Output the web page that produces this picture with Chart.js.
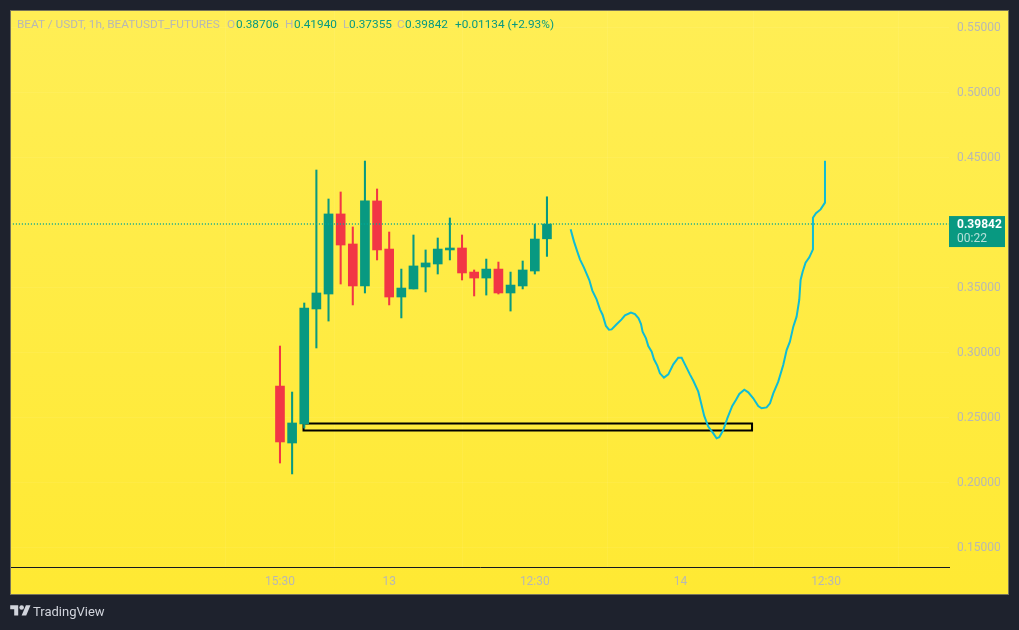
<!DOCTYPE html>
<html>
<head>
<meta charset="utf-8">
<title>BEAT / USDT</title>
<script src="https://cdn.jsdelivr.net/npm/chart.js@4"></script>
<style>
    html, body { margin: 0; padding: 0; background: #1e222d; overflow: hidden; }
    #pane { position: absolute; left: 10px; top: 10px; width: 997px; height: 583px; border: 1px solid #77745a;
            background: linear-gradient(#ffee55, #ffe933); }
    #myChart { position: absolute; left: 0; top: 0; }
    .hd { position: absolute; top: 17px; font: 11.8px Roboto, sans-serif; line-height: 14px; white-space: nowrap; color: #089981; }
    .gr { color: #b8b8b4; }
    #brand { position: absolute; left: 33px; top: 604px; font: 13px Roboto, sans-serif; color: #d1d4dc; }
    #logo { position: absolute; left: 10px; top: 603px; }
</style>
</head>
<body>
<div id="pane"></div>
<canvas id="myChart" width="1019" height="630"></canvas>
<span class="hd gr" style="left:17px">BEAT / USDT, 1h, BEATUSDT_FUTURES</span>
<span class="hd gr" style="left:227px">O</span><span class="hd" style="left:236px">0.38706</span>
<span class="hd gr" style="left:285px">H</span><span class="hd" style="left:294px">0.41940</span>
<span class="hd gr" style="left:343px">L</span><span class="hd" style="left:349px">0.37355</span>
<span class="hd gr" style="left:397px">C</span><span class="hd" style="left:405px">0.39842</span>
<span class="hd" style="left:455px">+0.01134 (+2.93%)</span>
<svg id="logo" width="21" height="16" viewBox="0 0 36 28"><path fill="#d1d4dc" d="M14 22H7V11H0V4h14v18zM28 22h-8l7.5-18h8L28 22z"/><circle fill="#d1d4dc" cx="20" cy="8" r="4"/></svg>
<span id="brand">TradingView</span>
<script>
// candles, one per hour, first one is index 0
candle_open  = [0.2738, 0.2300, 0.2446, 0.3331, 0.3446, 0.4062, 0.3831, 0.3508, 0.4162, 0.3792, 0.3423, 0.3485, 0.3654, 0.3677, 0.3785, 0.3800, 0.3615, 0.3569, 0.3638, 0.3454, 0.3508, 0.3623, 0.38706]
candle_close = [0.2308, 0.2454, 0.3338, 0.3454, 0.4062, 0.3823, 0.3508, 0.4162, 0.3785, 0.3423, 0.3492, 0.3662, 0.3685, 0.3792, 0.3800, 0.3608, 0.3569, 0.3638, 0.3454, 0.3515, 0.3631, 0.3869, 0.39842]
candle_high  = [0.3046, 0.2692, 0.3377, 0.4400, 0.4177, 0.4231, 0.3962, 0.4469, 0.4254, 0.3923, 0.3638, 0.3900, 0.3785, 0.3877, 0.4031, 0.3900, 0.3631, 0.3715, 0.3692, 0.3615, 0.3700, 0.3984, 0.41940]
candle_low   = [0.2146, 0.2062, 0.2415, 0.3031, 0.3238, 0.3523, 0.3362, 0.3454, 0.3708, 0.3362, 0.3262, 0.3485, 0.3462, 0.3600, 0.3708, 0.3554, 0.3431, 0.3438, 0.3446, 0.3315, 0.3485, 0.3600, 0.37355]

// hand drawn projection, x is in candle units
path_x = [23.95, 24.23, 24.50, 24.72, 25.05, 25.49, 25.74, 26.09, 26.37, 26.59, 26.86, 27.11, 27.33, 27.74, 28.15, 28.43, 28.92, 29.25, 29.55, 29.75, 29.88, 30.16, 30.35, 30.63, 30.82, 31.09, 31.31, 31.64, 32.00, 32.41, 32.82, 33.10, 33.37, 33.78, 34.06, 34.47, 34.74, 34.96, 35.29, 35.71, 35.98, 36.20, 36.53, 36.86, 37.27, 37.57, 37.85, 38.26, 38.59, 39.00, 39.41, 39.69, 40.10, 40.38, 40.65, 41.06, 41.47, 41.75, 42.02, 42.30, 42.57, 42.79, 42.90, 43.07, 43.31, 43.62, 43.92, 43.92, 44.17, 44.55, 44.91, 44.91]
path_y = [0.3944, 0.3849, 0.3772, 0.3713, 0.3649, 0.3554, 0.3472, 0.3405, 0.3328, 0.3285, 0.3200, 0.3172, 0.3174, 0.3213, 0.3251, 0.3282, 0.3303, 0.3292, 0.3259, 0.3215, 0.3156, 0.3105, 0.3046, 0.3003, 0.2944, 0.2895, 0.2836, 0.2803, 0.2828, 0.2905, 0.2956, 0.2956, 0.2905, 0.2828, 0.2779, 0.2695, 0.2592, 0.2508, 0.2426, 0.2374, 0.2336, 0.2344, 0.2400, 0.2490, 0.2585, 0.2631, 0.2677, 0.2710, 0.2690, 0.2644, 0.2585, 0.2567, 0.2574, 0.2605, 0.2682, 0.2772, 0.2900, 0.3015, 0.3079, 0.3195, 0.3272, 0.3400, 0.3554, 0.3618, 0.3687, 0.3728, 0.3790, 0.4033, 0.4067, 0.4097, 0.4149, 0.4472]

// black box drawn on the chart
box_x = [1.94, 38.9, 38.9, 1.94, 1.94]
box_y = [0.2450, 0.2450, 0.2396, 0.2396, 0.2450]

last_price = 0.39842
countdown = "00:22"

y_ticks = [0.15, 0.20, 0.25, 0.30, 0.35, 0.40, 0.45, 0.50, 0.55]
y_tick_labels = ["0.15000", "0.20000", "0.25000", "0.30000", "0.35000", "", "0.45000", "0.50000", "0.55000"]
x_ticks = [0, 9, 21, 33, 45]
x_tick_labels = ["15:30", "13", "12:30", "14", "12:30"]

up_color = "#089981"
down_color = "#f23645"
label_color = "#b8b8b4"

function toPoints(xs, ys) {
    return xs.map((x, i) => ({x: x, y: ys[i]}));
}

let wicks = candle_open.map((o, i) => ({x: i, y: [candle_low[i], candle_high[i]]}));
let bodies = candle_open.map((o, i) => ({x: i, y: [o, candle_close[i]]}));
let colors = candle_open.map((o, i) => candle_close[i] >= o ? up_color : down_color);

// the price tag on the axis, follows the y scale
let priceTag = {
    id: "priceTag",
    afterDraw(chart) {
        let ctx = chart.ctx;
        let y = chart.scales.y.getPixelForValue(last_price);
        ctx.save();
        ctx.fillStyle = up_color;
        ctx.fillRect(chart.chartArea.right, y - 8, 56, 31);
        ctx.textBaseline = "middle";
        ctx.textAlign = "left";
        ctx.fillStyle = "#ffffff";
        ctx.font = "bold 12px Roboto, sans-serif";
        ctx.fillText(last_price.toFixed(5), chart.chartArea.right + 8, y + 1);
        ctx.fillStyle = "rgba(255,255,255,0.7)";
        ctx.font = "12px Roboto, sans-serif";
        ctx.fillText(countdown, chart.chartArea.right + 8, y + 15);
        ctx.restore();
    }
};

// y labels must not push the plot area in
function noPadding(scale) {
    scale.paddingTop = 0;
    scale.paddingBottom = 0;
    scale.paddingLeft = 0;
    scale.paddingRight = 0;
}

let myChart = document.getElementById("myChart").getContext("2d");
let candleChart = new Chart(myChart, {
    data: {
        datasets: [
            {
                type: "line",
                data: toPoints(box_x, box_y),
                borderColor: "#000000",
                borderWidth: 2,
                pointRadius: 0,
                tension: 0,
                order: 5
            },
            {
                type: "bar",
                data: wicks,
                backgroundColor: colors,
                barThickness: 1.4,
                grouped: false,
                order: 4
            },
            {
                type: "bar",
                data: bodies,
                backgroundColor: colors,
                barThickness: 9,
                grouped: false,
                order: 3
            },
            {
                type: "line",
                data: toPoints([-23, 56], [last_price, last_price]),
                borderColor: "#00a896",
                borderWidth: 1.4,
                borderDash: [1, 2],
                pointRadius: 0,
                order: 2
            },
            {
                type: "line",
                data: toPoints(path_x, path_y),
                borderColor: "#0fbcd6",
                borderWidth: 2,
                pointRadius: 0,
                tension: 0,
                order: 1
            }
        ]
    },
    options: {
        responsive: false,
        animation: false,
        layout: {padding: {left: 11, top: 11, right: 11, bottom: 36}},
        plugins: {legend: {display: false}, tooltip: {enabled: false}},
        scales: {
            x: {
                type: "linear",
                min: -22.165,
                max: 55.13,
                offset: false,
                afterFit(scale) { scale.height = 27; noPadding(scale); },
                afterBuildTicks(scale) { scale.ticks = x_ticks.map(v => ({value: v})); },
                border: {display: true, color: "#131722", width: 1},
                grid: {color: "rgba(255,255,255,0.06)", drawTicks: false},
                ticks: {
                    color: label_color,
                    font: {family: "Roboto, sans-serif", size: 12},
                    padding: 8,
                    maxRotation: 0,
                    autoSkip: false,
                    callback: (v) => x_tick_labels[x_ticks.indexOf(v)]
                }
            },
            y: {
                position: "right",
                min: 0.13462,
                max: 0.56231,
                afterFit(scale) { scale.width = 59; noPadding(scale); },
                afterBuildTicks(scale) { scale.ticks = y_ticks.map(v => ({value: v})); },
                border: {display: false},
                grid: {color: "rgba(255,255,255,0.06)", drawTicks: false},
                ticks: {
                    color: label_color,
                    font: {family: "Roboto, sans-serif", size: 12},
                    padding: 8,
                    labelOffset: 1,
                    autoSkip: false,
                    callback: (v) => y_tick_labels[y_ticks.indexOf(v)]
                }
            }
        }
    },
    plugins: [priceTag]
});
</script>
</body>
</html>
